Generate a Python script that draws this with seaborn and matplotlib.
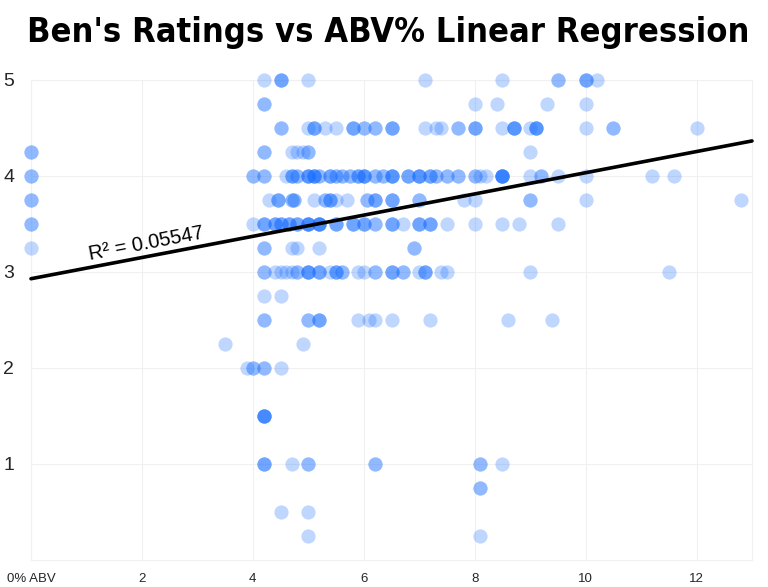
import numpy as np
import pandas as pd
import matplotlib
matplotlib.use("Agg")
import matplotlib.pyplot as plt
import seaborn as sns
from matplotlib import font_manager
from matplotlib.font_manager import FontProperties

# ---- data: for each rating level, ABV values and how many beers sit on that spot
r500_abv = [4.2, 4.5, 5.0, 7.1, 8.5, 9.5, 10.0, 10.2]
r500_n   = [1,   3,   1,   1,   1,   2,   3,    1]
r475_abv = [4.2, 8.0, 8.4, 9.3, 10.0]
r475_n   = [2,   1,   1,   1,   1]
r450_abv = [4.5, 5.0, 5.1, 5.3, 5.5, 5.8, 6.0, 6.2, 6.5, 7.1, 7.3, 7.4, 7.7, 8.0, 8.5, 8.7, 9.0, 9.1, 10.0, 10.5, 12.0]
r450_n   = [2,   1,   3,   1,   1,   3,   2,   2,   3,   1,   1,   1,   2,   3,   1,   4,   1,   4,   1,    2,    1]
r425_abv = [0.0, 4.2, 4.7, 4.8, 4.9, 5.0, 9.0]
r425_n   = [2,   2,   1,   1,   1,   2,   1]
r400_abv = [0.0, 4.0, 4.2, 4.6, 4.7, 4.8, 5.0, 5.1, 5.2, 5.4, 5.5, 5.6, 5.75, 5.9, 6.0, 6.2, 6.35, 6.5, 6.8, 7.0, 7.2, 7.3, 7.5, 7.7, 8.0, 8.1, 8.2, 8.5, 9.0, 9.2, 9.5, 10.0, 11.2, 11.6]
r400_n   = [2,   2,   2,   1,   3,   2,   4,   4,   2,   3,   2,   2,   2,    3,   4,   2,   2,    4,   3,   4,   3,   2,   2,   2,   2,   1,   1,   6,   1,   2,   1,   1,    1,    1]
r375_abv = [0.0, 4.3, 4.45, 4.7, 4.75, 5.1, 5.3, 5.4, 5.5, 5.7, 6.05, 6.2, 6.5, 7.0, 7.8, 8.0, 9.0, 10.0, 12.8]
r375_n   = [2,   1,   3,    2,   2,    1,   2,   3,   1,   1,   2,    3,   3,   2,   1,   1,   2,   1,    1]
r350_abv = [0.0, 4.0, 4.2, 4.4, 4.5, 4.65, 4.8, 5.0, 5.2, 5.5, 5.8, 6.0, 6.2, 6.5, 6.7, 7.0, 7.2, 7.5, 8.0, 8.5, 8.8, 9.5]
r350_n   = [2,   1,   3,   3,   3,   3,    3,   5,   5,   3,   3,   3,   2,   3,   1,   3,   3,   1,   1,   1,   1,   1]
r325_abv = [0.0, 4.2, 4.7, 4.8, 5.2, 6.9]
r325_n   = [1,   2,   1,   1,   1,   2]
r300_abv = [4.2, 4.4, 4.5, 4.6, 4.7, 4.8, 5.0, 5.2, 5.4, 5.5, 5.6, 5.9, 6.0, 6.2, 6.5, 6.7, 7.0, 7.1, 7.4, 7.5, 9.0, 11.5]
r300_n   = [2,   1,   1,   1,   1,   2,   4,   3,   1,   3,   2,   1,   1,   2,   3,   2,   1,   3,   1,   1,   1,   1]
r275_abv = [4.2, 4.5]
r275_n   = [1,   1]
r250_abv = [4.2, 5.0, 5.2, 5.9, 6.1, 6.2, 6.5, 7.2, 8.6, 9.4]
r250_n   = [2,   2,   3,   1,   1,   1,   1,   1,   1,   1]
r225_abv = [3.5, 4.9]
r225_n   = [1,   1]
r200_abv = [3.9, 4.0, 4.2, 4.5]
r200_n   = [1,   2,   2,   1]
r150_abv = [4.2]
r150_n   = [5]
r100_abv = [4.2, 4.7, 5.0, 6.2, 8.1, 8.5]
r100_n   = [3,   1,   2,   2,   2,   1]
r075_abv = [8.1]
r075_n   = [2]
r050_abv = [4.5, 5.0]
r050_n   = [1,   1]
r025_abv = [5.0, 8.1]
r025_n   = [1,   1]

levels = [
    (5.00, r500_abv, r500_n), (4.75, r475_abv, r475_n), (4.50, r450_abv, r450_n),
    (4.25, r425_abv, r425_n), (4.00, r400_abv, r400_n), (3.75, r375_abv, r375_n),
    (3.50, r350_abv, r350_n), (3.25, r325_abv, r325_n), (3.00, r300_abv, r300_n),
    (2.75, r275_abv, r275_n), (2.50, r250_abv, r250_n), (2.25, r225_abv, r225_n),
    (2.00, r200_abv, r200_n), (1.50, r150_abv, r150_n), (1.00, r100_abv, r100_n),
    (0.75, r075_abv, r075_n), (0.50, r050_abv, r050_n), (0.25, r025_abv, r025_n),
]

fit_intercept = 2.93
fit_slope = 0.1104
r2_label = "R\u00b2 = 0.05547"

x_ticks = [0, 2, 4, 6, 8, 10, 12]
x_tick_labels = ["0% ABV", "2", "4", "6", "8", "10", "12"]
y_ticks = [1, 2, 3, 4, 5]
y_tick_labels = ["1", "2", "3", "4", "5"]
title = "Ben's Ratings vs ABV% Linear Regression"

rows = []
for rating, abvs, counts in levels:
    for a, n in zip(abvs, counts):
        rows.extend([(a, rating)] * n)
df = pd.DataFrame(rows, columns=["abv", "rating"])

sns.set_theme(style="white")
plt.rcParams['font.family'] = ['Liberation Sans', 'DejaVu Sans']

fig = plt.figure(figsize=(7.68, 5.87), dpi=100)
ax = fig.add_axes([31/768, 1-560/587, (752-31)/768, (560-80)/587])

sns.scatterplot(data=df, x="abv", y="rating", ax=ax, color="#1a6fff", alpha=0.28,
                s=105, linewidth=0, clip_on=False, zorder=3)

line_x = np.array([0.0, 13.0])
ax.plot(line_x, fit_intercept + fit_slope * line_x, color="black", lw=2.6,
        solid_capstyle="round", clip_on=False, zorder=4)

ax.text(2.07, 3.29, r2_label, rotation=10.8, rotation_mode="anchor",
        ha="center", va="center", fontsize=14.5, color="black", zorder=5)

ax.set_xlim(0, 13)
ax.set_ylim(0, 5)
ax.set_xticks(x_ticks)
ax.set_xticklabels(x_tick_labels, fontsize=9.5)
ax.set_yticks(y_ticks)
ax.set_yticklabels(y_tick_labels, fontsize=14)
ax.tick_params(axis='x', length=0, pad=9)
ax.tick_params(axis='y', length=0, pad=12)
ax.set_xlabel("")
ax.set_ylabel("")
ax.grid(True, color="#f0f0f0", lw=0.8)
ax.set_axisbelow(True)
for sp in ax.spines.values():
    sp.set_color("#f0f0f0")
    sp.set_linewidth(0.8)

# find a condensed bold face if one is installed
cond = None
for f in font_manager.fontManager.ttflist:
    fn = f.fname.lower()
    if (("condensed" in fn or "narrow" in fn or str(f.stretch) in ("condensed", "semi-condensed", "extra-condensed")
         or "condensed" in f.name.lower() or "narrow" in f.name.lower())
            and ("bold" in fn or f.weight in ("bold", 700))):
        if "oblique" in fn or "italic" in fn:
            continue
        cond = f.fname
        break

if cond is not None:
    tprop = FontProperties(fname=cond, size=31)
else:
    tprop = FontProperties(family=['Liberation Sans', 'DejaVu Sans'], weight='bold', size=26)

t = fig.text(0.505, 0.944, title, ha="center", va="center", fontproperties=tprop, color="black")

# shrink to fit the reference width (~720 px) if needed
fig.canvas.draw()
w = t.get_window_extent().width
if w > 722:
    tprop.set_size(tprop.get_size() * 720 / w)
    t.set_fontproperties(tprop)

fig.savefig("out.png", dpi=100, facecolor="white")
